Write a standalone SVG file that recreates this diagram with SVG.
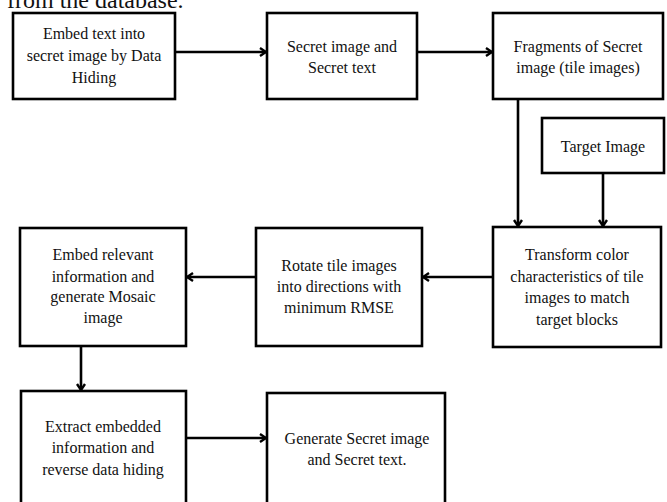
<svg xmlns="http://www.w3.org/2000/svg" width="667" height="502" viewBox="0 0 667 502">
<style>
.box{fill:#fff;stroke:#000;stroke-width:2.6}
.t{font-family:'Liberation Serif',serif;font-size:16px;fill:#111;text-anchor:middle}
.c{fill:none;stroke:#000;stroke-width:2.6}
</style>
<defs>
<marker id="ah" markerWidth="10" markerHeight="10" refX="8" refY="5" orient="auto" markerUnits="userSpaceOnUse">
<path d="M2,1 L8,5 L2,9" fill="none" stroke="#000" stroke-width="2.4"/>
</marker>
</defs>
<rect width="667" height="502" fill="#fff"/>
<text x="7" y="8" font-family="Liberation Serif, serif" font-size="24" fill="#111">from the database.</text>
<g id="connectors">
<line class="c" x1="175" y1="52" x2="266" y2="52" marker-end="url(#ah)"/>
<line class="c" x1="417" y1="52" x2="492" y2="52" marker-end="url(#ah)"/>
<line class="c" x1="518" y1="99" x2="518" y2="226" marker-end="url(#ah)"/>
<line class="c" x1="603" y1="173" x2="603" y2="226" marker-end="url(#ah)"/>
<line class="c" x1="493" y1="277" x2="423" y2="277" marker-end="url(#ah)"/>
<line class="c" x1="256" y1="277" x2="187" y2="277" marker-end="url(#ah)"/>
<line class="c" x1="81" y1="346" x2="81" y2="390" marker-end="url(#ah)"/>
<line class="c" x1="186" y1="438" x2="266" y2="438" marker-end="url(#ah)"/>
</g>
<g font-family="Liberation Serif, serif">
<g id="n1"><rect class="box" x="13" y="13" width="162" height="86"/>
<text class="t" x="94" y="39">Embed text into</text><text class="t" x="94" y="61">secret image by Data</text><text class="t" x="94" y="83">Hiding</text></g>
<g id="n2"><rect class="box" x="267" y="13" width="150" height="86"/>
<text class="t" x="342" y="52">Secret image and</text><text class="t" x="342" y="73">Secret text</text></g>
<g id="n3"><rect class="box" x="493" y="13" width="170" height="86"/>
<text class="t" x="578" y="52">Fragments of Secret</text><text class="t" x="578" y="73">image (tile images)</text></g>
<g id="n4"><rect class="box" x="542" y="118" width="122" height="55"/>
<text class="t" x="603" y="152">Target Image</text></g>
<g id="n5"><rect class="box" x="493" y="227" width="168" height="120"/>
<text class="t" x="577" y="260">Transform color</text><text class="t" x="577" y="282">characteristics of tile</text><text class="t" x="577" y="303">images to match</text><text class="t" x="577" y="325">target blocks</text></g>
<g id="n6"><rect class="box" x="256" y="228" width="166" height="118"/>
<text class="t" x="339" y="271">Rotate tile images</text><text class="t" x="339" y="292">into directions with</text><text class="t" x="339" y="313">minimum RMSE</text></g>
<g id="n7"><rect class="box" x="20" y="228" width="166" height="118"/>
<text class="t" x="103" y="260">Embed relevant</text><text class="t" x="103" y="282">information and</text><text class="t" x="103" y="302">generate Mosaic</text><text class="t" x="103" y="323">image</text></g>
<g id="n8"><rect class="box" x="21" y="391" width="165" height="130"/>
<text class="t" x="103" y="432">Extract embedded</text><text class="t" x="103" y="453">information and</text><text class="t" x="103" y="475">reverse data hiding</text></g>
<g id="n9"><rect class="box" x="267" y="393" width="178" height="130"/>
<text class="t" x="357" y="444">Generate Secret image</text><text class="t" x="357" y="465">and Secret text.</text></g>
</g>
</svg>
